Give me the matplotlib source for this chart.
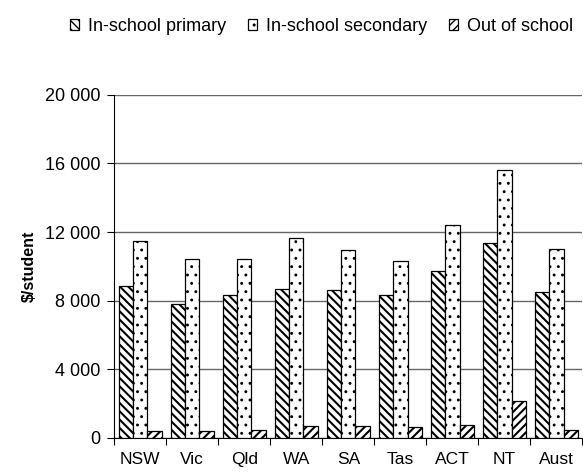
import numpy as np
import matplotlib
matplotlib.use("Agg")
import matplotlib.pyplot as plt
from matplotlib.ticker import FuncFormatter

states = ["NSW", "Vic", "Qld", "WA", "SA", "Tas", "ACT", "NT", "Aust"]
primary = [8840, 7810, 8340, 8690, 8650, 8340, 9750, 11390, 8510]
secondary = [11490, 10440, 10440, 11660, 10960, 10320, 12440, 15600, 11020]
out_of_school = [410, 425, 480, 700, 700, 640, 760, 2175, 480]

plt.rcParams["font.family"] = ["Liberation Sans", "DejaVu Sans"]

fig = plt.figure(figsize=(5.83, 4.74), dpi=100)
ax = fig.add_axes([0.196, 0.076, 0.803, 0.724])

x = np.arange(len(states))
w = 0.275
# hatch linewidth is picked up when each patch is made
with plt.rc_context({"hatch.linewidth": 1.5}):
    ax.bar(x - w, primary, w, color="white", edgecolor="black", lw=0.9,
           hatch="\\\\\\\\", label="In-school primary", zorder=3)
with plt.rc_context({"hatch.linewidth": 0.9}):
    ax.bar(x, secondary, w, color="white", edgecolor="black", lw=0.9,
           hatch="..", label="In-school secondary", zorder=3)
with plt.rc_context({"hatch.linewidth": 1.5}):
    ax.bar(x + w, out_of_school, w, color="white", edgecolor="black", lw=0.9,
           hatch="////", label="Out of school", zorder=3)

ax.set_xlim(-0.5, len(states) - 0.5)
ax.set_ylim(0, 20000)
ax.set_yticks(np.arange(0, 20001, 4000))
ax.yaxis.set_major_formatter(FuncFormatter(lambda v, p: f"{int(v):,}".replace(",", " ")))
ax.yaxis.grid(True, color="#666666", lw=1.0, zorder=0)

# category ticks between groups, labels centred
ax.set_xticks(np.arange(-0.5, len(states), 1.0))
ax.set_xticklabels([])
ax.set_xticks(x, minor=True)
ax.set_xticklabels(states, minor=True, fontsize=12.5)
ax.tick_params(axis="x", which="minor", length=0, pad=10)
ax.tick_params(axis="x", which="major", length=5, direction="out")
ax.tick_params(axis="y", length=5, direction="out", labelsize=13, pad=5)

for s in ["top", "right"]:
    ax.spines[s].set_visible(False)

ax.set_ylabel("$/student", fontsize=11.5, fontweight="bold", labelpad=6)

fig.legend(loc="center right", bbox_to_anchor=(0.983, 0.944), ncol=3,
           frameon=False, fontsize=13, handlelength=0.5, handleheight=0.5,
           handletextpad=0.5, columnspacing=1.2, borderaxespad=0, borderpad=0)

fig.savefig("out.png", dpi=100)
